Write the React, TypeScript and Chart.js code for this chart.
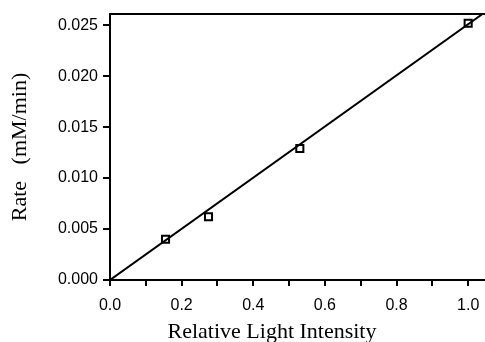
import React, { useEffect, useRef } from "react";
import { Chart, registerables } from "chart.js";

Chart.register(...registerables);

const intensity = [0.155, 0.275, 0.53, 1.0];
const rate = [0.004, 0.0062, 0.0129, 0.0252];
const fitX = [0, 1.04];
const fitY = [0, 0.0261];
const xTicks = [0, 0.1, 0.2, 0.3, 0.4, 0.5, 0.6, 0.7, 0.8, 0.9, 1.0];
const yTicks = [0, 0.005, 0.01, 0.015, 0.02, 0.025];
const xLabel = "Relative Light Intensity";
const yLabel = "Rate   (mM/min)";

const titlesPlugin = {
  id: "titles",
  afterDraw(chart: any) {
    const ctx = chart.ctx;
    const a = chart.chartArea;
    ctx.save();
    ctx.fillStyle = "#000";
    ctx.font = "22px 'Liberation Serif', 'Times New Roman', serif";
    ctx.textAlign = "center";
    ctx.textBaseline = "middle";
    ctx.fillText(xLabel, a.left + 162, a.bottom + 52);
    ctx.translate(20, (a.top + a.bottom) / 2);
    ctx.rotate(-Math.PI / 2);
    ctx.fillText(yLabel, 0, 0);
    ctx.restore();
  },
};

export default function App() {
  const ref = useRef<HTMLCanvasElement>(null);
  useEffect(() => {
    document.body.style.margin = "0";
    const tickFont = { family: "'Liberation Sans', Arial, sans-serif", size: 16 };
    const chart = new Chart(ref.current!, {
      type: "scatter",
      data: {
        datasets: [
          {
            type: "line",
            data: fitX.map((x, i) => ({ x, y: fitY[i] })),
            borderColor: "#000",
            borderWidth: 2,
            pointRadius: 0,
            showLine: true,
            fill: false,
          } as any,
          {
            data: intensity.map((x, i) => ({ x, y: rate[i] })),
            pointStyle: "rect",
            pointRadius: 5,
            borderColor: "#000",
            borderWidth: 2,
            backgroundColor: "#fff",
          },
        ],
      },
      options: {
        animation: false,
        responsive: false,
        layout: { autoPadding: false, padding: { top: 14, right: 0, left: 0, bottom: 0 } },
        plugins: { legend: { display: false }, tooltip: { enabled: false } },
        scales: {
          x: {
            type: "linear",
            min: 0,
            max: 1.047,
            afterFit(s: any) { s.height = 62; s.paddingRight = 0; s.paddingLeft = 0; },
            afterBuildTicks(s: any) { s.ticks = xTicks.map((value) => ({ value })); },
            ticks: {
              color: "#000",
              font: tickFont,
              padding: 10,
              maxRotation: 0,
              autoSkip: false,
              callback: (v: any) => (Math.round(Number(v) * 10) % 2 === 0 ? Number(v).toFixed(1) : ""),
            },
            grid: { drawOnChartArea: false, color: "#000", lineWidth: 2, tickLength: 6 },
            border: { color: "#000", width: 2 },
          },
          x2: {
            type: "linear",
            position: "top",
            min: 0,
            max: 1.047,
            afterFit(s: any) { s.height = 0; s.paddingRight = 0; s.paddingLeft = 0; },
            ticks: { display: false },
            grid: { display: false },
            border: { color: "#000", width: 2 },
          },
          y: {
            type: "linear",
            min: 0,
            max: 0.0261,
            afterFit(s: any) { s.width = 110; s.paddingTop = 0; s.paddingBottom = 0; },
            afterBuildTicks(s: any) { s.ticks = yTicks.map((value) => ({ value })); },
            ticks: {
              color: "#000",
              font: tickFont,
              padding: 5,
              autoSkip: false,
              callback: (v: any) => Number(v).toFixed(3),
            },
            grid: { drawOnChartArea: false, color: "#000", lineWidth: 2, tickLength: 7 },
            border: { color: "#000", width: 2 },
          },
        },
      },
      plugins: [titlesPlugin],
    } as any);
    return () => chart.destroy();
  }, []);
  return (
    <div style={{ position: "absolute", left: 0, top: 0, width: 485, height: 342 }}>
      <canvas ref={ref} width={485} height={342} />
    </div>
  );
}
